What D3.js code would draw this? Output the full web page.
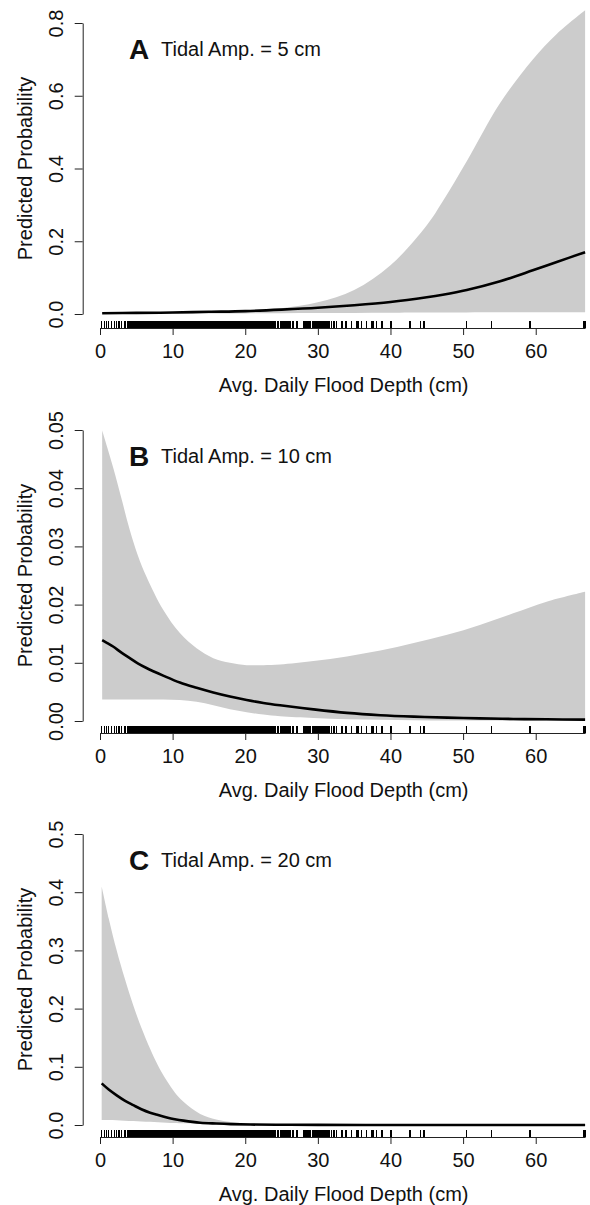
<!DOCTYPE html>
<html>
<head>
<meta charset="utf-8">
<script src="https://cdn.jsdelivr.net/npm/d3@7"></script>
<style>
body { margin: 0; background: #fff; }
text { font-family: "Liberation Sans", Arial, Helvetica, sans-serif; fill: #111; }
.axis path, .axis line { stroke: #222; stroke-width: 1; }
.band { fill: #cccccc; }
.fit { fill: none; stroke: #000; stroke-width: 2.6; }
.rug { stroke: #000; stroke-width: 1.5; shape-rendering: crispEdges; }
</style>
</head>
<body>
<svg id="fig"></svg>
<script>
var width = 590,
    height = 1205;

// panel A: tidal amplitude 5 cm
var depthA = [0.3, 5, 10, 15, 20, 25, 30, 35, 40, 45, 47.2, 50.5, 55.1, 59.6, 62.9, 66.8];
var meanA  = [0.002, 0.003, 0.004, 0.006, 0.008, 0.012, 0.017, 0.024, 0.033, 0.046, 0.053, 0.066, 0.090, 0.120, 0.143, 0.170];
var upperA = [0.004, 0.0045, 0.005, 0.006, 0.009, 0.016, 0.032, 0.066, 0.134, 0.244, 0.310, 0.420, 0.580, 0.700, 0.770, 0.835];
var lowerA = [0.0005, 0.0008, 0.001, 0.0013, 0.0017, 0.002, 0.0025, 0.003, 0.0035, 0.004, 0.004, 0.0042, 0.0045, 0.0047, 0.0048, 0.005];

// panel B: tidal amplitude 10 cm
var depthB = [0.3, 1.0, 1.8, 3.0, 4.1, 5.2, 6.4, 8.7, 11.0, 13.3, 15.6, 17.9, 20.2, 22.5, 24.8, 29.4, 34.0, 38.6, 43.2, 47.8, 52.3, 56.9, 61.5, 66.8];
var meanB  = [0.0139, 0.0134, 0.0128, 0.0117, 0.0108, 0.0099, 0.0091, 0.0078, 0.0066, 0.0057, 0.0049, 0.0042, 0.0036, 0.0031, 0.0027, 0.0020, 0.0014, 0.0010, 0.00075, 0.00058, 0.00045, 0.00035, 0.00029, 0.00024];
var upperB = [0.0499, 0.0470, 0.0436, 0.0380, 0.0328, 0.0285, 0.0248, 0.0191, 0.0151, 0.0125, 0.0108, 0.0100, 0.0096, 0.0096, 0.0097, 0.0103, 0.0111, 0.0121, 0.0134, 0.0148, 0.0165, 0.0185, 0.0205, 0.0222];
var lowerB = [0.0037, 0.0037, 0.0037, 0.0037, 0.0037, 0.0037, 0.0037, 0.0037, 0.0036, 0.0033, 0.0027, 0.0020, 0.0015, 0.0011, 0.0008, 0.0005, 0.0003, 0.0002, 0.00015, 0.0001, 0.00008, 0.00006, 0.00005, 0.00004];

// panel C: tidal amplitude 20 cm
var depthC = [0.23, 1.2, 2.3, 3.4, 4.6, 5.7, 6.9, 8.0, 9.2, 10.3, 11.5, 13.8, 16, 18, 20.7, 25, 30, 40, 50, 66.8];
var meanC  = [0.0715, 0.061, 0.051, 0.042, 0.034, 0.027, 0.021, 0.017, 0.013, 0.010, 0.0075, 0.004, 0.0025, 0.0015, 0.0008, 0.0004, 0.0002, 0.00005, 0.00001, 0];
var upperC = [0.41, 0.355, 0.30, 0.252, 0.205, 0.167, 0.131, 0.102, 0.076, 0.056, 0.040, 0.019, 0.0095, 0.005, 0.0025, 0.0012, 0.0006, 0.0002, 0.0001, 0.00002];
var lowerC = [0.0086, 0.0084, 0.008, 0.0075, 0.007, 0.0062, 0.0055, 0.0047, 0.004, 0.0034, 0.0028, 0.0018, 0.0012, 0.0008, 0.0004, 0.0002, 0.0001, 0, 0, 0];

// observed flood depths (rug)
var rugDepth = [0.23, 0.6, 0.92, 1.15, 1.6, 1.97, 2.3, 2.62, 2.99, 3.35, 3.54, 3.81,
  4.0,4.1,4.3,4.4,4.5,4.7,4.8,4.9,5.1,5.2,5.3,5.5,5.6,5.7,5.9,6.0,6.1,6.3,6.4,6.5,6.7,6.8,6.9,7.0,
  7.2,7.3,7.4,7.6,7.7,7.8,8.0,8.1,8.2,8.4,8.5,8.6,8.8,8.9,9.0,9.2,9.3,9.4,9.5,9.7,9.8,9.9,10.1,10.2,
  10.3,10.5,10.6,10.7,10.9,11.0,11.1,11.3,11.4,11.5,11.7,11.8,11.9,12.0,12.2,12.3,12.4,12.6,12.7,12.8,
  13.0,13.1,13.2,13.4,13.5,13.6,13.8,13.9,14.0,14.2,14.3,14.4,14.5,14.7,14.8,14.9,15.1,15.2,15.3,15.5,
  15.6,15.7,15.9,16.0,16.1,16.3,16.4,16.5,16.7,16.8,16.9,17.0,17.2,17.3,17.4,17.6,17.7,17.8,18.0,18.1,
  18.2,18.4,18.5,18.6,18.8,18.9,19.0,19.2,19.3,19.4,19.5,19.7,19.8,19.9,20.1,20.2,20.3,20.5,20.6,20.7,
  20.9,21.0,21.1,21.3,21.4,21.5,21.7,21.8,21.9,22.0,22.2,22.3,22.4,22.6,22.7,22.8,23.0,23.1,23.2,23.4,
  23.5,23.6,23.8,23.9,
  24.0, 24.2, 24.5, 24.6, 24.9, 25.1, 25.3, 25.4, 25.6, 25.8, 26.0, 26.2, 26.6, 27.1,
  28.0, 28.2, 28.4, 28.5, 28.7, 28.9, 29.0, 29.3, 29.5, 29.6, 29.8, 30.0, 30.1, 30.3, 30.6, 30.8,
  30.9, 31.1, 31.4, 31.6, 31.9, 32.2, 32.6,
  33.3, 33.9, 34.6, 35.3, 35.5, 36.0, 36.7, 37.4, 37.6, 38.1, 38.8, 40.1, 42.7, 44.1, 44.6,
  50.5, 53.9, 59.2, 66.6, 66.8];

var xTicks = [0, 10, 20, 30, 40, 50, 60];
var yTicksA = [0, 0.2, 0.4, 0.6, 0.8];
var yTicksB = [0, 0.01, 0.02, 0.03, 0.04, 0.05];
var yTicksC = [0, 0.1, 0.2, 0.3, 0.4, 0.5];
var panelLetters = ["A", "B", "C"];
var tidalAmps = [5, 10, 20];

// layout
var panelTop = [23, 430, 834],
    plotH = 291,
    axisGap = [14, 12, 12],
    yAxisX = 82.7,
    xMid = 33.55,
    font = 20;

var svg = d3.select("#fig")
            .attr("width", width)
            .attr("height", height);

var x = d3.scaleLinear()
          .domain([0, 66.8])
          .range([100, 100 + 7.262 * 66.8]);

var panels = [
  { depth: depthA, mean: meanA, upper: upperA, lower: lowerA, ticks: yTicksA, fmt: d3.format(".1f") },
  { depth: depthB, mean: meanB, upper: upperB, lower: lowerB, ticks: yTicksB, fmt: d3.format(".2f") },
  { depth: depthC, mean: meanC, upper: upperC, lower: lowerC, ticks: yTicksC, fmt: d3.format(".1f") }
];

var draw = function(p, i) {
  var top = panelTop[i],
      axisY = top + plotH + axisGap[i];

  var y = d3.scaleLinear()
            .domain([0, p.ticks[p.ticks.length - 1]])
            .range([top + plotH, top]);

  var rows = p.depth.map(function(d, j) {
    return { depth: d, mean: p.mean[j], upper: p.upper[j], lower: p.lower[j] };
  });

  var area = d3.area()
               .x(function(d) { return x(d.depth); })
               .y0(function(d) { return y(d.lower); })
               .y1(function(d) { return y(d.upper); })
               .curve(d3.curveCatmullRom.alpha(0.5));

  var line = d3.line()
               .x(function(d) { return x(d.depth); })
               .y(function(d) { return y(d.mean); })
               .curve(d3.curveCatmullRom.alpha(0.5));

  svg.append("path").datum(rows).attr("class", "band").attr("d", area);
  svg.append("path").datum(rows).attr("class", "fit").attr("d", line);

  // y axis
  var ya = svg.append("g")
              .attr("class", "axis")
              .attr("transform", "translate(" + yAxisX + ",0)")
              .call(d3.axisLeft(y).tickValues(p.ticks).tickFormat(p.fmt).tickSize(8).tickSizeOuter(0))
              .attr("font-size", font)
              .attr("font-family", null);
  ya.selectAll("text")
    .attr("transform", "rotate(-90)")
    .attr("x", 0)
    .attr("y", -19.7)
    .attr("dy", null)
    .attr("text-anchor", "middle");

  svg.append("text")
     .attr("transform", "translate(32," + (top + plotH / 2) + ") rotate(-90)")
     .attr("text-anchor", "middle")
     .attr("font-size", font)
     .text("Predicted Probability");

  // x axis
  svg.append("g")
     .attr("class", "axis")
     .attr("transform", "translate(0," + axisY + ")")
     .call(d3.axisBottom(x).tickValues(xTicks).tickSize(7).tickPadding(9).tickSizeOuter(0))
     .attr("font-size", font)
     .attr("font-family", null);

  svg.selectAll("line.rug" + i)
     .data(rugDepth)
     .enter().append("line")
       .attr("class", "rug rug" + i)
       .attr("x1", function(d) { return x(d); })
       .attr("x2", function(d) { return x(d); })
       .attr("y1", axisY - 7)
       .attr("y2", axisY);

  svg.append("text")
     .attr("x", x(xMid))
     .attr("y", axisY + 64)
     .attr("text-anchor", "middle")
     .attr("font-size", font)
     .text("Avg. Daily Flood Depth (cm)");

  // panel heading
  svg.append("text")
     .attr("x", 129)
     .attr("y", top + 36)
     .attr("font-size", 28)
     .attr("font-weight", "bold")
     .text(panelLetters[i]);
  svg.append("text")
     .attr("x", 161)
     .attr("y", top + 33)
     .attr("font-size", font)
     .text("Tidal Amp. = " + tidalAmps[i] + " cm");
};

panels.forEach(draw);
</script>
</body>
</html>
